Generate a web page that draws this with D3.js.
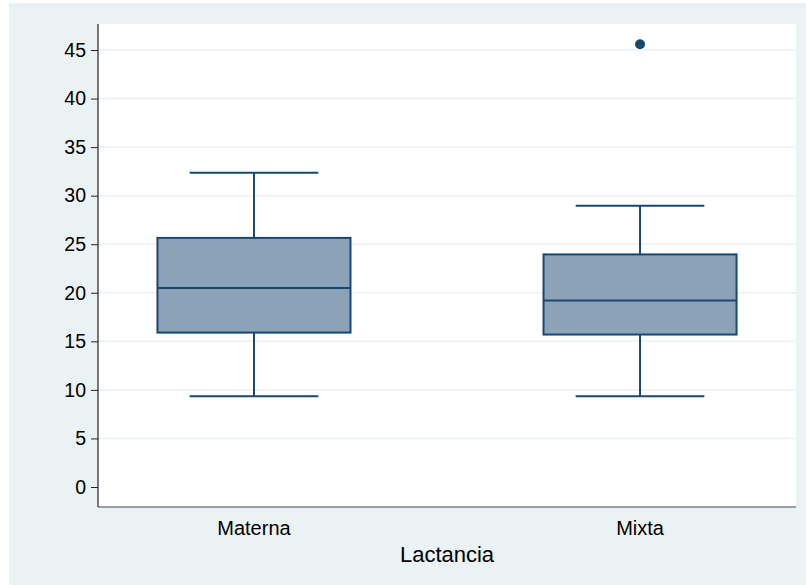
<!DOCTYPE html>
<html>
<head>
<meta charset="utf-8" />
<title>Lactancia</title>
<script src="https://cdn.jsdelivr.net/npm/d3@7"></script>
<style>
body { margin: 0; background: #fff; }
text { font-family: "Liberation Sans", Arial, sans-serif; fill: #000; }
</style>
</head>
<body>
<script>
// data
var categories = ["Materna", "Mixta"];
var lowWhisker = [9.35, 9.35];
var q1 = [15.9, 15.7];
var medians = [20.5, 19.2];
var q3 = [25.65, 23.95];
var highWhisker = [32.35, 28.95];
var outliers = [{ group: "Mixta", value: 45.6 }];
var yTicks = [0, 5, 10, 15, 20, 25, 30, 35, 40, 45];

var W = 806, H = 585;
var plot = { left: 98, right: 796, top: 24, bottom: 507 };

var svg = d3.select("body").append("svg")
	.attr("width", W)
	.attr("height", H);

// outer background
svg.append("rect")
	.attr("x", 9).attr("y", 3)
	.attr("width", W - 9).attr("height", H - 3)
	.attr("fill", "#eaf2f3");

svg.append("rect")
	.attr("x", plot.left).attr("y", plot.top)
	.attr("width", plot.right - plot.left).attr("height", plot.bottom - plot.top)
	.attr("fill", "#fff");

var xScale = d3.scalePoint().domain(categories).range([plot.left, plot.right]).padding(0.404);
var yScale = d3.scaleLinear().domain([0, 45]).range([487, 50]);
var step = xScale.step();

// gridlines
svg.append("g").selectAll("line")
	.data(yTicks.filter(d => d > 0))
	.enter().append("line")
	.attr("x1", plot.left).attr("x2", plot.right)
	.attr("y1", d => yScale(d)).attr("y2", d => yScale(d))
	.attr("stroke", "#eaf2f3")
	.attr("stroke-width", 1.5);

// y axis
var yAxis = svg.append("g")
	.attr("transform", "translate(" + plot.left + ",0)")
	.call(d3.axisLeft(yScale).tickValues(yTicks).tickSize(7).tickPadding(5));
yAxis.select(".domain").remove();
yAxis.selectAll(".tick line").attr("stroke", "#222");
yAxis.selectAll(".tick text").attr("font-size", "19.5px").attr("fill", "#000")
	.style("font-family", "'Liberation Sans', Arial, sans-serif");
svg.append("line")
	.attr("x1", plot.left).attr("x2", plot.left)
	.attr("y1", plot.top).attr("y2", plot.bottom)
	.attr("stroke", "#222").attr("stroke-width", 1.2);

// x axis line
svg.append("line")
	.attr("x1", plot.left).attr("x2", plot.right)
	.attr("y1", plot.bottom).attr("y2", plot.bottom)
	.attr("stroke", "#444").attr("stroke-width", 1.2);

svg.append("g").selectAll("text")
	.data(categories)
	.enter().append("text")
	.attr("x", d => xScale(d))
	.attr("y", 535)
	.attr("text-anchor", "middle")
	.attr("font-size", "20px")
	.text(d => d);

svg.append("text")
	.attr("x", (plot.left + plot.right) / 2)
	.attr("y", 562)
	.attr("text-anchor", "middle")
	.attr("font-size", "22px")
	.text("Lactancia");

// boxes
var navy = "#1a476f";
var boxW = step / 2, capW = step / 3;
var g = svg.append("g").selectAll("g")
	.data(categories)
	.enter().append("g");

g.append("line")
	.attr("x1", d => xScale(d)).attr("x2", d => xScale(d))
	.attr("y1", (d, i) => yScale(highWhisker[i])).attr("y2", (d, i) => yScale(q3[i]))
	.attr("stroke", navy).attr("stroke-width", 2);
g.append("line")
	.attr("x1", d => xScale(d)).attr("x2", d => xScale(d))
	.attr("y1", (d, i) => yScale(q1[i])).attr("y2", (d, i) => yScale(lowWhisker[i]))
	.attr("stroke", navy).attr("stroke-width", 2);
g.append("line")
	.attr("x1", d => xScale(d) - capW / 2).attr("x2", d => xScale(d) + capW / 2)
	.attr("y1", (d, i) => yScale(highWhisker[i])).attr("y2", (d, i) => yScale(highWhisker[i]))
	.attr("stroke", navy).attr("stroke-width", 2);
g.append("line")
	.attr("x1", d => xScale(d) - capW / 2).attr("x2", d => xScale(d) + capW / 2)
	.attr("y1", (d, i) => yScale(lowWhisker[i])).attr("y2", (d, i) => yScale(lowWhisker[i]))
	.attr("stroke", navy).attr("stroke-width", 2);
g.append("rect")
	.attr("x", d => xScale(d) - boxW / 2)
	.attr("y", (d, i) => yScale(q3[i]))
	.attr("width", boxW)
	.attr("height", (d, i) => yScale(q1[i]) - yScale(q3[i]))
	.attr("fill", "#8ca3b7")
	.attr("stroke", navy).attr("stroke-width", 2);
g.append("line")
	.attr("x1", d => xScale(d) - boxW / 2).attr("x2", d => xScale(d) + boxW / 2)
	.attr("y1", (d, i) => yScale(medians[i])).attr("y2", (d, i) => yScale(medians[i]))
	.attr("stroke", navy).attr("stroke-width", 2);

svg.append("g").selectAll("circle")
	.data(outliers)
	.enter().append("circle")
	.attr("cx", d => xScale(d.group))
	.attr("cy", d => yScale(d.value))
	.attr("r", 5)
	.attr("fill", navy);
</script>
</body>
</html>
